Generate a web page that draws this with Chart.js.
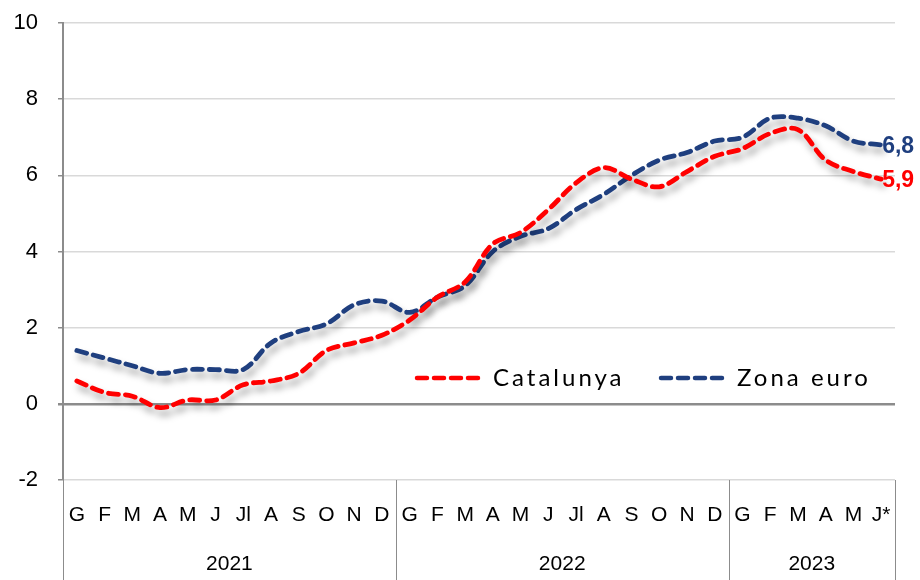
<!DOCTYPE html>
<html>
<head>
<meta charset="utf-8">
<script src="https://cdn.jsdelivr.net/npm/chart.js@4/dist/chart.umd.min.js"></script>
<style>
  html, body { margin: 0; padding: 0; background: #fff; }
  #contenedor { width: 920px; height: 580px; }
</style>
</head>
<body>
<div id="contenedor"><canvas id="grafico"></canvas></div>
<script>
// Datos del gráfico
const meses = ['G', 'F', 'M', 'A', 'M', 'J', 'Jl', 'A', 'S', 'O', 'N', 'D',
               'G', 'F', 'M', 'A', 'M', 'J', 'Jl', 'A', 'S', 'O', 'N', 'D',
               'G', 'F', 'M', 'A', 'M', 'J*'];
const anios = ['2021', '2022', '2023'];
const mesesPorAnio = [12, 12, 6];

const catalunya = [0.6, 0.3, 0.2, -0.1, 0.1, 0.1, 0.5, 0.6, 0.8, 1.4, 1.6, 1.8,
                   2.2, 2.8, 3.2, 4.2, 4.5, 5.1, 5.8, 6.2, 5.9, 5.7, 6.1, 6.5,
                   6.7, 7.1, 7.2, 6.4, 6.1, 5.9];
const zonaEuro = [1.4, 1.2, 1.0, 0.8, 0.9, 0.9, 0.9, 1.6, 1.9, 2.1, 2.6, 2.7,
                  2.4, 2.8, 3.1, 4.0, 4.4, 4.6, 5.1, 5.5, 6.0, 6.4, 6.6, 6.9,
                  7.0, 7.5, 7.5, 7.3, 6.9, 6.8];

const etiquetasSeries = ['Catalunya', 'Zona euro'];
const colorRojo = '#ff0000';
const colorAzul = '#1f3f7f';
const guion = [10, 7];

// Sombra debajo de las líneas
const pluginSombra = {
    id: 'sombra',
    beforeDatasetDraw(chart) {
        const ctx = chart.ctx;
        ctx.save();
        ctx.shadowColor = 'rgba(0,0,0,0.35)';
        ctx.shadowBlur = 7;
        ctx.shadowOffsetX = 3;
        ctx.shadowOffsetY = 6;
    },
    afterDatasetDraw(chart) {
        chart.ctx.restore();
    }
};

// Eje de categorías con dos niveles (meses y años)
const pluginEjeX = {
    id: 'ejeX',
    afterDraw(chart) {
        const ctx = chart.ctx;
        const x = chart.scales.x;
        const area = chart.chartArea;
        const ancho = (x.getPixelForValue(1) - x.getPixelForValue(0));
        ctx.save();
        ctx.fillStyle = '#000';
        ctx.textAlign = 'center';
        ctx.textBaseline = 'middle';
        ctx.font = '21px "Liberation Sans", Arial, sans-serif';
        meses.forEach((m, i) => {
            ctx.fillText(m, x.getPixelForValue(i), area.bottom + 35);
        });

        // Separadores y años
        ctx.strokeStyle = '#8c8c8c';
        ctx.lineWidth = 1;
        let inicio = 0;
        const bordes = [area.left];
        mesesPorAnio.forEach((n, k) => {
            const izq = x.getPixelForValue(inicio) - ancho / 2;
            const der = x.getPixelForValue(inicio + n - 1) + ancho / 2;
            bordes.push(der);
            ctx.fillText(anios[k], (izq + der) / 2, area.bottom + 84);
            inicio += n;
        });
        bordes.forEach(b => {
            ctx.beginPath();
            ctx.moveTo(Math.round(b) + 0.5, area.bottom);
            ctx.lineTo(Math.round(b) + 0.5, chart.height);
            ctx.stroke();
        });
        ctx.restore();
    }
};

// Leyenda dentro del gráfico y etiquetas del último valor
const pluginLeyenda = {
    id: 'leyenda',
    afterDatasetsDraw(chart) {
        const ctx = chart.ctx;
        const y = chart.scales.y;
        const x = chart.scales.x;
        const colores = [colorRojo, colorAzul];
        const posiciones = [417, 661];
        ctx.save();
        ctx.lineWidth = 4.5;
        ctx.lineCap = 'round';
        ctx.setLineDash(guion);
        ctx.textBaseline = 'middle';
        ctx.font = '24px Lato, "Noto Sans", sans-serif';
        ctx.letterSpacing = '3px';
        etiquetasSeries.forEach((t, i) => {
            ctx.strokeStyle = colores[i];
            ctx.beginPath();
            ctx.moveTo(posiciones[i], 378);
            ctx.lineTo(posiciones[i] + 68, 378);
            ctx.stroke();
            ctx.fillStyle = '#000';
            ctx.fillText(t, posiciones[i] + 76, 378);
        });

        // Últimos valores
        ctx.letterSpacing = '0px';
        ctx.font = 'bold 23px "Liberation Sans", Arial, sans-serif';
        ctx.textAlign = 'left';
        const ultimo = meses.length - 1;
        const series = [catalunya, zonaEuro];
        series.forEach((s, i) => {
            const v = s[ultimo];
            ctx.fillStyle = colores[i];
            ctx.fillText(v.toFixed(1).replace('.', ','), x.getPixelForValue(ultimo) + 1, y.getPixelForValue(v) + 2);
        });
        ctx.restore();
    }
};

function crearGrafico() {
    const ctx = document.getElementById('grafico').getContext('2d');
    new Chart(ctx, {
        type: 'line',
        data: {
            labels: meses,
            datasets: [{
                label: etiquetasSeries[0],
                data: catalunya,
                borderColor: colorRojo,
                borderWidth: 4.8,
                borderDash: guion,
                borderCapStyle: 'round',
                pointRadius: 0,
                tension: 0.35,
                fill: false
            }, {
                label: etiquetasSeries[1],
                data: zonaEuro,
                borderColor: colorAzul,
                borderWidth: 4.8,
                borderDash: guion,
                borderCapStyle: 'round',
                pointRadius: 0,
                tension: 0.35,
                fill: false
            }]
        },
        options: {
            responsive: true,
            maintainAspectRatio: false,
            animation: false,
            layout: { padding: { top: 23, right: 25, left: 0, bottom: 0 } },
            plugins: {
                legend: { display: false },
                tooltip: { enabled: false }
            },
            scales: {
                x: {
                    offset: true,
                    grid: { display: false, drawTicks: false },
                    border: { display: false },
                    ticks: { display: false },
                    afterFit(scale) { scale.height = 100; }
                },
                y: {
                    min: -2,
                    max: 10,
                    ticks: {
                        stepSize: 2,
                        color: '#000',
                        padding: 20,
                        font: { family: '"Liberation Sans", Arial, sans-serif', size: 22 }
                    },
                    grid: {
                        color: c => c.tick && c.tick.value === 0 ? '#8c8c8c' : '#d9d9d9',
                        lineWidth: c => c.tick && c.tick.value === 0 ? 2.5 : 1.5,
                        tickColor: '#8c8c8c',
                        tickLength: 5
                    },
                    border: { color: '#8c8c8c', width: 2 },
                    afterFit(scale) {
                        scale.width = 63;
                        scale.paddingTop = 0;
                        scale.paddingBottom = 0;
                    }
                }
            }
        },
        plugins: [pluginSombra, pluginEjeX, pluginLeyenda]
    });
}

crearGrafico();
</script>
</body>
</html>
